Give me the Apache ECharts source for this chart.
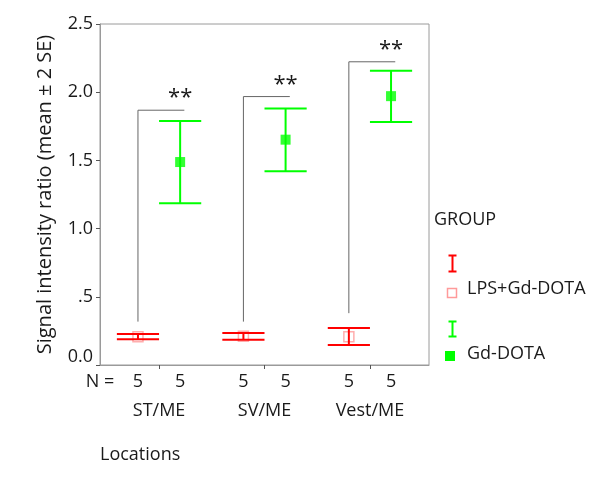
<!DOCTYPE html>
<html>
<head>
<meta charset="utf-8">
<script src="https://cdn.jsdelivr.net/npm/echarts@6/dist/echarts.min.js"></script>
<style>html,body{margin:0;padding:0;background:#fff;}#c{width:600px;height:480px;}</style>
</head>
<body>
<div id="c"></div>
<script>
const categories = ['ST/ME', 'SV/ME', 'Vest/ME'];
const lpsMean = [0.208, 0.211, 0.208];
const lpsLow  = [0.189, 0.186, 0.147];
const lpsHigh = [0.228, 0.235, 0.272];
const gdMean  = [1.488, 1.652, 1.971];
const gdLow   = [1.186, 1.421, 1.782];
const gdHigh  = [1.789, 1.880, 2.157];
const nLps = [5, 5, 5];
const nGd  = [5, 5, 5];
const bracketTop    = [1.868, 1.968, 2.223];
const bracketBottom = [0.318, 0.318, 0.380];
const sigLabels = ['**', '**', '**'];
const yTickLabels = ['0.0', '.5', '1.0', '1.5', '2.0', '2.5'];
const groupNames = ['LPS+Gd-DOTA', 'Gd-DOTA'];

const FONT = 'Open Sans';
const RED = '#ff0000', PINK = '#ff9a9a', GREEN = '#00ff00', GRAY = '#9a9a9a';
const OFF = 0.2;

const nPos = [], nMap = {};
categories.forEach((c, i) => {
  const a = +(i + 1 - OFF).toFixed(2), b = +(i + 1 + OFF).toFixed(2);
  nPos.push(a, b); nMap[a] = String(nLps[i]); nMap[b] = String(nGd[i]);
});
const XMIN = 0.44, XMAX = 3.56;

function errBar(color) {
  return function (params, api) {
    const x = api.value(0), lo = api.coord([x, api.value(1)]), hi = api.coord([x, api.value(2)]);
    const half = api.size([OFF, 0])[0];
    const st = { stroke: color, lineWidth: 2 };
    return { type: 'group', children: [
      { type: 'line', shape: { x1: lo[0], y1: lo[1], x2: hi[0], y2: hi[1] }, style: st },
      { type: 'line', shape: { x1: lo[0] - half, y1: lo[1], x2: lo[0] + half, y2: lo[1] }, style: st },
      { type: 'line', shape: { x1: hi[0] - half, y1: hi[1], x2: hi[0] + half, y2: hi[1] }, style: st }
    ]};
  };
}

const option = {
  animation: false,
  backgroundColor: '#fff',
  textStyle: { fontFamily: FONT },
  grid: { left: 100, right: 171, top: 24, bottom: 115, show: true, borderColor: GRAY, borderWidth: 1, backgroundColor: 'transparent' },
  xAxis: [
    { type: 'value', min: XMIN, max: XMAX, splitLine: { show: false },
      axisLine: { show: true, lineStyle: { color: GRAY } },
      axisTick: { show: true, customValues: [1, 2, 3], length: 4, lineStyle: { color: '#555' } },
      axisLabel: { customValues: [XMIN].concat(nPos), fontFamily: FONT, fontSize: 18, color: '#1a1a1a', margin: 8,
        formatter: v => (v < 0.5 ? 'N =' : (nMap[+(+v).toFixed(2)] || '')) } },
    { type: 'value', min: XMIN, max: XMAX, position: 'bottom', offset: 29, splitLine: { show: false },
      axisLine: { show: false }, axisTick: { show: false },
      axisLabel: { customValues: [1, 2, 3], fontFamily: FONT, fontSize: 18, color: '#1a1a1a', margin: 8,
        formatter: v => categories[Math.round(v) - 1] || '' } }
  ],
  yAxis: {
    type: 'value', min: 0, max: 2.5, interval: 0.5,
    name: 'Signal intensity ratio (mean ± 2 SE)', nameLocation: 'middle', nameGap: 45,
    nameTextStyle: { fontFamily: FONT, fontSize: 20, color: '#1a1a1a' },
    splitLine: { show: false },
    axisLine: { show: true, lineStyle: { color: GRAY } },
    axisTick: { show: true, length: 4, lineStyle: { color: '#555' } },
    axisLabel: { fontFamily: FONT, fontSize: 18, color: '#1a1a1a', margin: 7,
      formatter: v => { const t = yTickLabels[Math.round(v / 0.5)]; return v === 0 ? '{z|' + t + '}' : t; },
      rich: { z: { fontFamily: FONT, fontSize: 18, color: '#1a1a1a', padding: [0, 0, 16, 0] } } }
  },
  series: [
    { type: 'custom', name: 'bracket', renderItem: function (params, api) {
        const x = api.value(0);
        const b = api.coord([x, api.value(1)]), t = api.coord([x, api.value(2)]);
        const r = api.coord([x + 2 * OFF + 0.04, api.value(2)]);
        const s = api.coord([x + 2 * OFF, api.value(2)]);
        return { type: 'group', children: [
          { type: 'polyline', shape: { points: [b, t, r] }, style: { stroke: '#666', lineWidth: 1, fill: null } },
          { type: 'text', style: { text: sigLabels[params.dataIndex], x: s[0], y: s[1] - 1, align: 'center', verticalAlign: 'bottom',
              font: '22px "' + FONT + '"', fill: '#1a1a1a' } }
        ]};
      },
      data: categories.map((c, i) => [i + 1 - OFF, bracketBottom[i], bracketTop[i]]), z: 1 },
    { type: 'custom', name: 'lpsErr', renderItem: errBar(RED),
      data: categories.map((c, i) => [i + 1 - OFF, lpsLow[i], lpsHigh[i]]), z: 3 },
    { type: 'scatter', name: groupNames[0], symbol: 'rect', symbolSize: 10,
      itemStyle: { color: 'rgba(255,255,255,0)', borderColor: PINK, borderWidth: 1.5 },
      data: categories.map((c, i) => [i + 1 - OFF, lpsMean[i]]), z: 2 },
    { type: 'custom', name: 'gdErr', renderItem: errBar(GREEN),
      data: categories.map((c, i) => [i + 1 + OFF, gdLow[i], gdHigh[i]]), z: 3 },
    { type: 'scatter', name: groupNames[1], symbol: 'rect', symbolSize: 10,
      itemStyle: { color: GREEN },
      data: categories.map((c, i) => [i + 1 + OFF, gdMean[i]]), z: 4 }
  ],
  graphic: [
    { type: 'text', left: 434, top: 211, style: { text: 'GROUP', font: '18px "' + FONT + '"', fill: '#1a1a1a' } },
    { type: 'group', left: 446, top: 253, children: [
      { type: 'line', shape: { x1: 4, y1: 0, x2: 4, y2: 16 }, style: { stroke: RED, lineWidth: 2 } },
      { type: 'line', shape: { x1: 0, y1: 0, x2: 8, y2: 0 }, style: { stroke: RED, lineWidth: 2 } },
      { type: 'line', shape: { x1: 0, y1: 16, x2: 8, y2: 16 }, style: { stroke: RED, lineWidth: 2 } }
    ]},
    { type: 'rect', left: 445, top: 286, shape: { width: 9, height: 9 }, style: { fill: null, stroke: PINK, lineWidth: 1.5 } },
    { type: 'text', left: 467, top: 280, style: { text: groupNames[0], font: '18px "' + FONT + '"', fill: '#1a1a1a' } },
    { type: 'group', left: 446, top: 319, children: [
      { type: 'line', shape: { x1: 4, y1: 0, x2: 4, y2: 15 }, style: { stroke: GREEN, lineWidth: 2 } },
      { type: 'line', shape: { x1: 0, y1: 0, x2: 8, y2: 0 }, style: { stroke: GREEN, lineWidth: 2 } },
      { type: 'line', shape: { x1: 0, y1: 15, x2: 8, y2: 15 }, style: { stroke: GREEN, lineWidth: 2 } }
    ]},
    { type: 'rect', left: 445, top: 351, shape: { width: 10, height: 10 }, style: { fill: GREEN } },
    { type: 'text', left: 467, top: 345, style: { text: groupNames[1], font: '18px "' + FONT + '"', fill: '#1a1a1a' } },
    { type: 'text', left: 100, top: 446, style: { text: 'Locations', font: '18px "' + FONT + '"', fill: '#1a1a1a' } }
  ]
};
echarts.init(document.getElementById('c'), null, { renderer: 'canvas' }).setOption(option);
</script>
</body>
</html>
